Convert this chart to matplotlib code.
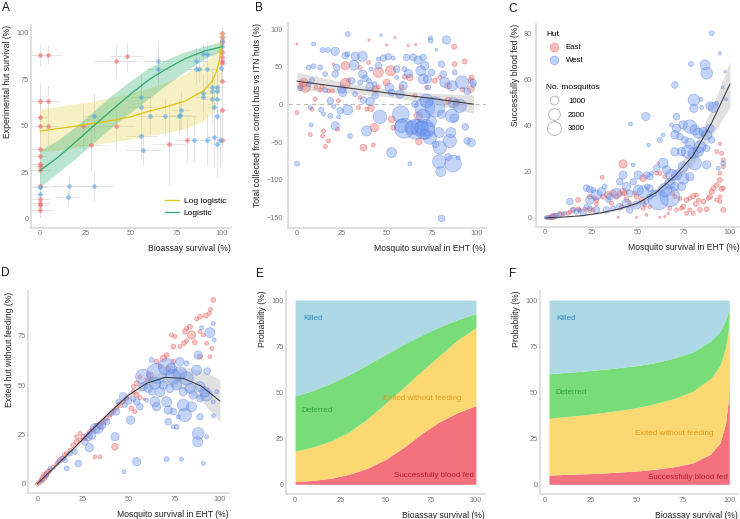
import numpy as np
import matplotlib
matplotlib.use("Agg")
import matplotlib.pyplot as plt
from matplotlib.lines import Line2D

plt.rcParams['font.family'] = ['Liberation Sans', 'DejaVu Sans']

# ---------------- data ----------------
# Panel A: bioassay survival vs experimental hut survival (x, y, xerr, yerr)
a_east = [(0, 88.3, 7, 6), (4.2, 88.3, 8, 5), (0, 63.4, 5, 10), (4.2, 63.4, 7, 8), (0, 55, 4, 12),
          (0, 50, 5, 14), (4.2, 50, 6, 10), (0, 37.8, 5, 10), (0, 33.7, 4, 9), (0, 29.7, 5, 8),
          (0, 28.3, 4, 10), (0, 26.5, 6, 9), (0, 18, 4, 8), (0, 10.8, 5, 6), (0, 8.5, 5, 6),
          (0, 7.7, 4, 5), (0, 4.9, 7, 4), (41.8, 85.2, 12, 9), (47.7, 87.4, 9, 8), (23.9, 50, 8, 12),
          (28, 39.6, 9, 14), (41.8, 50, 10, 12), (70.8, 40.2, 9, 22), (80.9, 42.3, 6, 12),
          (100, 100, 2, 3), (100, 98, 2, 4), (100, 95, 2, 5), (100, 90, 3, 6), (100, 87, 2, 5),
          (100, 85, 2, 7), (100, 84, 3, 6), (100, 74.4, 2, 8), (100, 58.6, 2, 10), (100, 42.7, 3, 12)]
a_west = [(0, 17.1, 5, 8), (0, 13.5, 4, 6), (15.2, 11.7, 7, 4), (16.1, 17.7, 10, 6), (29.9, 17.7, 10, 8),
          (29.4, 55.5, 6, 12), (55.6, 65.4, 6, 12), (55.6, 60, 8, 10), (55.6, 44.5, 9, 12),
          (56.5, 37.3, 10, 9), (60.6, 55.5, 8, 10), (68.6, 55.3, 9, 10), (76.1, 55.3, 10, 9),
          (76.9, 55.9, 6, 8), (77.6, 58.6, 5, 10), (65.1, 84.9, 8, 10), (65.1, 80.5, 7, 8),
          (85.9, 85, 6, 7), (85.9, 80.5, 5, 8), (87.3, 80.5, 6, 7), (89.5, 88.6, 5, 6), (91.7, 88.6, 4, 7),
          (91.7, 80.5, 5, 9), (89.5, 68, 5, 10), (89.5, 65.4, 4, 12), (94.3, 70.8, 4, 10),
          (94.3, 69, 3, 12), (94.3, 64.5, 4, 14), (97.2, 70.8, 3, 12), (97.2, 69, 2, 14),
          (97.2, 64.5, 3, 16), (95.6, 60, 3, 15), (97.4, 55.5, 2, 18), (84.6, 42.7, 8, 12),
          (91.7, 42.7, 5, 14), (95.6, 44.1, 4, 16), (97.2, 40.5, 3, 18), (98.7, 42.7, 2, 15),
          (99.6, 81, 1, 8), (100, 96.4, 1, 4), (100, 92.8, 1, 5)]

a_loglog_x = [0, 10, 20, 30, 40, 50, 60, 70, 80, 90, 95, 97, 98.5, 99.5, 100]
a_loglog_y = [47.3, 48.6, 50, 51.5, 53, 55, 58, 60.5, 63.5, 69, 74.5, 79.5, 85, 92, 99.5]
a_loglog_lo = [36, 37, 38.5, 40, 41.5, 43, 45, 46.5, 48.5, 53, 58, 63, 70, 82, 97]
a_loglog_hi = [59, 60.5, 62, 63.5, 65.5, 67.5, 70.5, 74, 78, 83.5, 88, 90, 93, 96.5, 100]

a_logit_x = [0, 10, 20, 30, 40, 50, 60, 70, 80, 90, 100]
a_logit_y = [26, 33.3, 41.8, 50.5, 59, 67.3, 75, 81, 86.3, 90.2, 92.6]
a_logit_lo = [17.5, 25, 33, 41.5, 50, 57.5, 65, 72.5, 79.5, 86, 90.5]
a_logit_hi = [37, 42.5, 50, 58.5, 67, 74.5, 81.5, 86, 90, 93, 95.3]

# Panel B: survival in EHT vs deterrence (x, y, number of mosquitoes)
b_west = [(0, -78.7, 235), (1.8, 21.8, 235), (28.2, 93.8, 235), (46.7, 92.4, 26), (9.2, 80.4, 120),
          (74.2, 84.9, 235), (74.2, 88.5, 120), (83, 85.8, 900), (77.5, 72.9, 26), (14.2, 72.4, 235),
          (17.2, 72.4, 235), (21.2, 70.7, 900), (26.8, 64.9, 510), (28, 67, 235), (32.3, 64, 900),
          (36.3, 64, 1400), (31.7, 52.4, 1400), (22.1, 49.3, 510), (21.2, 40.4, 510), (15.7, 40.4, 235),
          (12.9, 49.3, 235), (9.2, 50.7, 235), (6.5, 49.3, 235), (8.3, 32.4, 235), (6.5, 27.1, 235),
          (15.7, 19.1, 235), (24.9, 20.4, 900), (25.3, 16, 900), (30.4, 31.6, 510), (35.1, 29.3, 235),
          (37.8, 34.7, 510), (40, 31.6, 235), (40.6, 24, 900), (43, 27.1, 235), (36.5, 40.4, 900),
          (41.1, 47.1, 120), (45.2, 60.4, 120), (45.2, 51.6, 510), (48, 61.8, 510), (50.7, 63.6, 510),
          (53.5, 61.8, 120), (51.3, 22.7, 900), (52.6, 16, 510), (55.4, 47.1, 510), (55.4, 36, 120),
          (59.6, 47.1, 235), (61.8, 41.3, 900), (59, 24.9, 900), (57.2, 13.8, 900), (60.9, 62.7, 510),
          (64.6, 62.7, 510), (67.3, 59.1, 900), (70.1, 62.7, 510), (71, 51.6, 900), (68.8, 44.9, 1400),
          (70.1, 33.8, 1400), (72.5, 33.8, 900), (74.7, 42.7, 510), (72.9, 22.7, 235), (80.3, 53.8, 510),
          (81.2, 40.4, 510), (82.1, 29.3, 1400), (86.3, 24.9, 1400), (87.6, 42.7, 235), (91.7, 29.3, 2700),
          (94.6, 17.3, 510), (97.8, 29.3, 510), (98, 25.8, 235), (36.9, 5.8, 510), (40.6, 4, 900),
          (43.4, 11.6, 510), (32.3, 13.8, 235), (28.2, -7.1, 1400), (18.5, 4.9, 510), (20.3, -2.7, 120),
          (24, -8.4, 510), (23.1, -16.4, 120), (13.5, -7.1, 235), (14.8, -12.9, 120), (7.4, -4, 120),
          (7.9, -27.1, 120), (18.5, -15.1, 235), (21.2, -28.4, 900), (29.5, -41.8, 235), (38.7, -35.1, 1400),
          (46.1, -16.4, 2700), (52.6, -64, 1400), (57.7, -12.9, 4400), (58.1, -28.4, 2700), (59.6, -31.6, 6500),
          (63.7, -30.7, 2700), (65.9, -32.9, 6500), (67.7, -30.7, 4400), (69.2, -30.7, 2700), (71, -32.9, 6500),
          (72.5, -32.9, 2700), (71, -4, 6500), (72, 4.9, 2700), (76.6, -3.1, 6500), (70.1, -15.1, 2700),
          (65.5, 0.4, 510), (71, -39.6, 1400), (73.8, -44, 2700), (62.7, -78.7, 120), (76.9, -52.9, 510),
          (79, -37.3, 1400), (80.3, -12.9, 900), (74.7, -22.7, 1400), (79.3, -57.3, 2700), (79, -76, 2700),
          (79.9, -89.3, 1400), (80.3, -151.6, 510), (85.4, -37.3, 1400), (86.2, -15.1, 2700), (87.3, -18.2, 900),
          (86.7, 2.7, 1400), (90.4, -1.8, 2700), (84.9, -48.4, 2700), (86.7, -78.7, 4400), (89.5, -70.7, 120),
          (83.9, -69.8, 510), (93.5, -29.8, 510), (96.8, -50.7, 900), (94.5, -48.4, 510)]
b_east = [(0, 80.4, 10), (0, -10.7, 120), (40, 85.8, 10), (49.8, 79.1, 10), (61.8, 78.2, 10), (65.9, 79.6, 10),
          (87.3, 76.9, 235), (3.7, 29.3, 900), (4.6, 22.7, 1400), (1.8, 24.9, 235), (10.5, 22.7, 120),
          (12.9, 19.1, 120), (17.5, 18.2, 120), (19.7, 18.2, 120), (26.8, 51.6, 900), (26.8, 28, 1400),
          (28.6, 32.4, 120), (43.4, 20.4, 510), (45.2, 23.6, 120), (45.2, 42.7, 1400), (52, 44.9, 1400),
          (49.8, 29.3, 510), (60, 36.9, 235), (62.7, 36, 510), (76.6, 31.6, 235), (83.9, 24.9, 510),
          (87.6, 53.8, 235), (93.2, 57.3, 235), (97, 36, 235), (96.5, 32.4, 235), (35.1, 9.3, 120),
          (34.1, -4, 120), (38.7, -6.2, 120), (41.1, -4.9, 510), (22.5, -32.9, 120), (14.8, -35.1, 120),
          (14.2, -41.8, 120), (15.7, -56, 120), (36.9, -57.3, 510), (42.4, -53.8, 120), (43, -30.7, 900),
          (52.6, -19.6, 510), (53.5, -30.7, 235), (67.3, -15.1, 900), (67.7, -49.3, 510), (88.6, 2.7, 510),
          (84, 5, 510), (92, 20, 235), (13.8, 23.6, 120), (10.1, 7, 120), (8.3, -6.2, 120), (7.4, -40, 120),
          (17.5, -48.4, 120), (58.1, 22.7, 235), (65.5, 11.6, 120), (23.1, 4.9, 120), (35.1, 49.3, 120),
          (39.7, 56, 120), (54.4, 89.3, 10), (72, 22.7, 120), (79.3, 36, 120), (96.5, 20.4, 510), (20.3, 53.5, 26)]
b_fit_x = [0, 25, 50, 75, 98]
b_fit_y = [31, 23, 15.5, 8, 0.5]
b_fit_lo = [19, 16, 10.5, 1, -11.5]
b_fit_hi = [43, 30, 20.5, 15, 12.5]

# Panel C: survival in EHT vs successfully blood fed
c_west = [(90.1, 80, 235), (94.6, 71.3, 64), (78.9, 66.7, 235), (86.5, 66.3, 1400), (87.4, 62.7, 2000),
          (97.3, 63.4, 26), (96, 56.6, 26), (97.8, 51.4, 64), (70.2, 57.6, 510), (80.5, 51.1, 2000),
          (80.5, 47.5, 900), (84.3, 51.4, 120), (84.7, 47.9, 120), (89.2, 48.5, 900), (91, 47.9, 1400),
          (92.8, 49.7, 120), (54.5, 43.9, 900), (46.2, 40.7, 120), (56, 31.6, 64), (71.1, 43.9, 510),
          (68.4, 40.3, 120), (71.1, 38.8, 900), (74.7, 40.3, 900), (78.3, 39.6, 2700), (81, 38.1, 1400),
          (82.9, 36.7, 1400), (85.6, 37.4, 900), (87.4, 36, 1400), (89.2, 38.8, 900), (90.1, 33.8, 510),
          (70.2, 36, 900), (72.9, 35.2, 510), (75.6, 33.8, 510), (78.3, 32.3, 1400), (83.8, 30.9, 2000),
          (87.4, 30.2, 510), (70.2, 28.7, 900), (73.8, 28.7, 900), (77.4, 28.7, 2700), (80.1, 28, 1400),
          (82.9, 28.7, 1400), (87.4, 23, 900), (96.4, 23.7, 235), (93.7, 21.5, 120), (81, 23.7, 2700),
          (74.7, 22.2, 1400), (63.9, 23.7, 1400), (65.7, 20.8, 900), (60.3, 21.5, 510), (68.4, 18.6, 2000),
          (71.1, 18.6, 1400), (74.7, 17.2, 2000), (78.3, 17.9, 900), (67.5, 15, 1400), (70.2, 13.6, 900),
          (73.8, 13.6, 900), (58.5, 10.7, 510), (56.7, 12.9, 510), (55.2, 13.6, 235), (61.2, 7.8, 6500),
          (67.5, 9.2, 6500), (64.8, 12.1, 2700), (50.4, 18.6, 900), (54.9, 18.6, 510), (56.7, 17.9, 510),
          (50.4, 12.1, 1400), (53.1, 11.4, 2000), (47.7, 15.7, 510), (42.2, 18.6, 900), (40.4, 15.7, 510),
          (44, 13.6, 900), (45.8, 10.7, 510), (38.6, 10.7, 1400), (35, 9.2, 510), (34.1, 7.8, 235),
          (30.5, 11.4, 900), (32.3, 13.6, 235), (27.8, 10, 1400), (24.2, 7.8, 900), (22.4, 12.9, 510),
          (24.2, 12.4, 510), (26, 12.1, 235), (22.4, 4.9, 235), (24.2, 4.2, 235), (27.8, 3.5, 510),
          (13.4, 7.1, 510), (15.2, 3.5, 235), (17, 2.7, 235), (20.6, 2.3, 510), (7.9, 1.3, 235),
          (6.1, 0.9, 235), (4.3, 0.6, 235), (2.5, 0.3, 120), (0.7, 0.1, 120), (10.6, 2, 120),
          (33.2, 3.5, 510), (36.8, 4.2, 235), (40.4, 4.9, 510), (44, 6.4, 900), (45.8, 3.5, 510),
          (49.5, 5.6, 900), (53.1, 6.4, 235), (56.7, 9.2, 235), (54.9, 7.1, 235), (18.4, 3.5, 120),
          (47.7, 23, 120), (57.6, 19.4, 120), (63.9, 36, 120), (62.1, 33.8, 235)]
c_east = [(1.6, 0.3, 120), (3.4, 0.3, 235), (4.3, 0.6, 510), (5.2, 0.9, 235), (7.9, 2, 120), (9.7, 1.7, 120),
          (12.5, 2, 120), (13.4, 2.6, 120), (15.2, 3.5, 235), (17.9, 4, 120), (18.8, 3.2, 120), (21.5, 3.8, 120),
          (24.2, 3.5, 235), (26, 3.5, 120), (27.8, 7.8, 235), (31.4, 9.2, 235), (34.1, 10, 510),
          (36.8, 10.7, 510), (38.6, 9.2, 235), (40.4, 10.4, 235), (42.2, 11.4, 510), (43.1, 10.7, 235),
          (35.9, 6.4, 120), (41.3, 4.9, 120), (44, 8.1, 235), (45.8, 6.4, 120), (49.5, 9.2, 235),
          (48.6, 10.7, 120), (52.2, 7.8, 235), (42.2, 23.4, 900), (53.1, 17.2, 510), (61.2, 23.7, 26),
          (60.3, 19.4, 120), (62.1, 19.4, 120), (64.8, 17.9, 120), (74.7, 4.9, 235), (76.5, 7.8, 235),
          (78.3, 8.5, 120), (80.1, 9.5, 235), (81.9, 10, 120), (81.6, 6.1, 235), (82.9, 7.8, 120),
          (83.8, 3.5, 235), (85.6, 7.1, 235), (87.4, 3.8, 235), (88.3, 8.5, 120), (89.2, 9.2, 235),
          (90.1, 11.4, 235), (91, 12.9, 235), (92.8, 14.3, 235), (94.6, 19.4, 120), (94.6, 16.5, 235),
          (95.5, 28, 120), (92.8, 28.7, 120), (96.4, 25.1, 120), (96.4, 22.2, 120), (95.5, 12.6, 235),
          (96.4, 12.9, 120), (94.6, 9.2, 120), (94.6, 7.1, 120), (96.4, 3.5, 235), (92.8, 7.8, 120),
          (80.1, 2, 120), (78.3, 3.5, 120), (76.5, 2, 120), (73.8, 4.2, 120), (72.9, 8.5, 120),
          (70.2, 9.2, 120), (69, 10.7, 120), (71.1, 3.5, 120), (67.5, 4.2, 120), (66.6, 2, 26),
          (64.8, 0.6, 10), (62.1, 0.3, 10), (49.5, 0.3, 10), (39.5, 0.3, 10), (54.9, 1.3, 26),
          (53.1, 4.2, 120), (54, 5.6, 120), (56.7, 4.9, 120), (17.9, 7.8, 235), (24.2, 9.2, 235),
          (26.9, 8.5, 120), (30.9, 17.6, 120), (27.8, 6.1, 120), (94.6, 32.1, 64)]
c_fit_x = [0, 10, 20, 30, 40, 50, 60, 70, 80, 90, 100]
c_fit_y = [0, 0.4, 1.0, 2.2, 3.9, 6.4, 11, 18, 27, 41, 58]
c_fit_lo = [0, 0.3, 0.8, 1.8, 3.3, 5.5, 9.5, 15.5, 23, 35, 48]
c_fit_hi = [0, 0.5, 1.2, 2.6, 4.5, 7.3, 12.5, 20.5, 31, 47, 68]

# Panel D: survival in EHT vs exited without feeding
d_east = [(0, 0, 120), (1.1, 0.7, 235), (2.4, 1.9, 235), (3.3, 3, 510), (4.2, 4.4, 510), (5.1, 5.2, 235),
          (6, 6.1, 235), (6.9, 6.9, 120), (8.8, 8.6, 120), (10.6, 10.3, 120), (12.4, 12, 235), (13.3, 12.9, 120),
          (15.1, 14.6, 235), (16.1, 15.4, 120), (17.9, 17.1, 120), (19.7, 19.6, 235), (21.5, 21.3, 235),
          (23.4, 22.2, 120), (25.2, 23.9, 235), (26.1, 23, 120), (27.9, 24.7, 120), (28.8, 26.4, 235),
          (30.7, 27.8, 235), (32.5, 29.8, 120), (34.3, 29.5, 510), (36.1, 31.5, 235), (38, 33.2, 235),
          (39.8, 34.9, 120), (41.6, 36.6, 235), (43.4, 38.3, 120), (45.3, 40, 235), (47.1, 41.6, 120),
          (48.9, 43.3, 235), (52.6, 46.7, 120), (54.4, 45, 235), (56.2, 43.7, 120), (51.6, 38.3, 235),
          (53.5, 36.6, 120), (42.5, 18.8, 510), (31.6, 13.7, 120), (34.3, 13.7, 120), (21.5, 23.9, 120),
          (23.4, 25.6, 120), (96.4, 93.3, 235), (94.9, 88.5, 120), (94.2, 86.5, 120), (92.3, 85.3, 235),
          (89.1, 84.8, 235), (87.2, 83.6, 120), (83.6, 79.7, 235), (81.8, 78.9, 120), (80.8, 77.2, 235),
          (84.5, 75.5, 900), (86.3, 71.8, 235), (81.8, 72.5, 120), (80.3, 71.3, 235), (78.1, 69.6, 120),
          (74.5, 69.6, 235), (73.5, 75.5, 120), (75.4, 74.7, 120), (89.1, 77.2, 120), (90.9, 75.5, 120),
          (92.7, 71.3, 120), (94.5, 64.5, 120), (95.6, 68.7, 120), (89.1, 64.5, 235), (74.5, 62, 235),
          (70.8, 65.3, 235), (69, 63.7, 510), (65.3, 62, 235), (61.7, 55.2, 510), (59.9, 52.6, 120),
          (56.2, 54.3, 120), (54.4, 51, 235), (52.6, 49.3, 120), (71.7, 58.6, 235), (67.2, 59.4, 120),
          (44.2, 40.8, 26), (58.5, 43, 26)]
d_west = [(65.3, 56, 6500), (58, 54.3, 3500), (70.8, 59.4, 4400), (74.5, 54.3, 3500), (78.1, 56, 2700),
          (81.8, 53.5, 2700), (87.2, 57.7, 1400), (88.1, 65.3, 900), (89.1, 49.3, 1400), (92.7, 45, 2000),
          (70.8, 41.6, 1400), (71.7, 37.4, 900), (74.5, 36.6, 510), (79.9, 40, 2000), (80.8, 34.9, 2700),
          (84.5, 39.1, 1400), (88.1, 25.6, 2000), (87.8, 21.3, 1400), (64.4, 41.6, 1400), (60.8, 48.4, 900),
          (67.2, 46.7, 1400), (64.4, 51, 2000), (51.1, 32.3, 900), (42.5, 23.9, 900), (31.6, 28.1, 1400),
          (27.9, 23.9, 900), (28.5, 18.3, 900), (22.4, 10.3, 510), (15.1, 12, 235), (16.1, 7.8, 235),
          (54.4, 11.2, 900), (70.8, 12.5, 235), (79, 12.5, 120), (90.9, 10.3, 120), (47.4, 6.1, 120),
          (93.1, 57.2, 510), (94.5, 76.7, 1400), (96.9, 73, 120), (96.4, 81.4, 120), (90, 79.2, 120),
          (98.2, 46.7, 120), (96.4, 34.5, 120), (92.7, 23.9, 120), (77.2, 34, 120), (74.5, 28.9, 120),
          (59.9, 42.5, 120), (6.9, 7.8, 120), (11.5, 11.2, 120), (14.2, 12.9, 235), (17.9, 15.4, 235),
          (20.6, 16.3, 235), (26.1, 21.3, 510), (29.7, 24.7, 900), (33.4, 28.1, 1400), (35.2, 29.8, 900),
          (38, 31.5, 510), (40.7, 35.7, 235), (43.4, 36.6, 510), (44.3, 41.6, 235), (47.1, 44.2, 900),
          (48, 40, 235), (49.8, 42, 510), (52.6, 43, 235), (54.4, 41.6, 510), (56.2, 39.1, 510),
          (58, 49.3, 900), (62.6, 46.7, 510), (69, 50.1, 900), (72.6, 48.4, 900), (76.3, 50.1, 1400),
          (79.9, 46.7, 900), (83.6, 48.4, 1400), (85.4, 45, 900), (89.1, 43.3, 510), (91.8, 46.7, 1400),
          (96.4, 41.6, 120), (62.6, 62.8, 235), (73.5, 58.6, 1400), (78.1, 62, 900), (81.8, 61.1, 235),
          (76.3, 28.9, 235), (71.7, 31.5, 510), (89.1, 34, 510), (65.3, 39.1, 900), (2.2, 1.5, 120),
          (4.8, 4.2, 235)]
d_fit_x = [0, 10, 20, 30, 40, 50, 60, 70, 80, 90, 100]
d_fit_y = [0, 9, 18, 27.5, 36.5, 45, 51, 54, 53.5, 49.5, 42]
d_fit_lo = [0, 8.2, 16.8, 26, 35, 43.2, 48.6, 50.2, 48, 42, 31.5]
d_fit_hi = [0, 9.8, 19.2, 29, 38, 46.8, 53.6, 57.8, 59.2, 57.5, 53]

# Panel E / F: stacked outcome probabilities (upper boundary of each band)
e_x = [0, 10, 20, 30, 40, 50, 60, 70, 80, 90, 100]
e_fed = [1.4, 2.1, 3.3, 5.5, 8.7, 13.5, 20, 27.5, 34, 39, 42.7]
e_exited = [18, 20.3, 23.5, 28.5, 35.5, 44, 52.5, 61.5, 70, 78.5, 85]
e_deterred = [48, 51, 55, 59.5, 65, 70.5, 76, 81, 85.5, 89.5, 92.6]

f_x = [2.5, 10, 20, 30, 40, 50, 60, 70, 80, 90, 95, 98, 99.5, 100]
f_fed = [5, 5.3, 5.6, 6, 6.6, 7.2, 8.2, 9.5, 11.5, 16.5, 22.5, 33, 46, 56]
f_exited = [35.8, 36.6, 37.5, 38.7, 40, 41.6, 43.8, 46.5, 50.3, 57.5, 64.5, 74, 84, 94]
f_deterred = [60, 60.6, 61.3, 62.2, 63.3, 64.4, 66, 68.5, 71.7, 77.8, 83, 89, 94, 99]

size_breaks = [1000, 2000, 3000]

# ---------------- styling ----------------
W, H = 740, 519
EAST_FACE, EAST_EDGE = '#F07C7C', '#E04848'
WEST_FACE, WEST_EDGE = '#6E98EE', '#3F68DA'
AXIS_GREY = '#DCDCDC'
TICK_GREY = '#7A7A7A'
TITLE_COL = '#222222'


def box(l, t, r, b):
    return [l / W, 1 - b / H, (r - l) / W, (b - t) / H]


def size_pt(n):
    d_px = 1.5 + 12.5 * np.sqrt(np.asarray(n, float) / 3000)
    return (d_px * 0.72) ** 2


def style(ax, xlim, ylim, yticks, xlabel, ylabel, xpad=1.5, ypad=1.5):
    ax.set_xlim(*xlim)
    ax.set_ylim(*ylim)
    ax.set_xticks([0, 25, 50, 75, 100])
    ax.set_yticks(yticks)
    for s in ['top', 'right']:
        ax.spines[s].set_visible(False)
    for s in ['left', 'bottom']:
        ax.spines[s].set_color(AXIS_GREY)
        ax.spines[s].set_linewidth(1.3)
    ax.tick_params(length=0, labelsize=5.3, labelcolor=TICK_GREY)
    ax.tick_params(axis='x', pad=xpad)
    ax.tick_params(axis='y', pad=ypad)
    ax.set_xlabel(xlabel, loc='right', fontsize=6.2, color=TITLE_COL, labelpad=5)
    ax.set_ylabel(ylabel, loc='top', fontsize=6.2, color=TITLE_COL, labelpad=3)


def bubbles(ax, pts, face, edge, alpha=0.45):
    arr = np.array(pts, float)
    order = np.argsort(-arr[:, 2])
    arr = arr[order]
    ax.scatter(arr[:, 0], arr[:, 1], s=size_pt(arr[:, 2]), facecolor=face, edgecolor=edge,
               linewidth=0.5, alpha=alpha, zorder=3)


def fit(ax, x, y, lo, hi):
    ax.fill_between(x, lo, hi, color='#B5B5B5', alpha=0.4, lw=0, zorder=2)
    ax.plot(x, y, color='#3A3A3A', lw=0.75, zorder=4)


fig = plt.figure(figsize=(W / 100, H / 100), dpi=100)

# ---- A ----
axA = fig.add_axes(box(30.9, 24.6, 231.1, 228.3))
for pts in (a_east, a_west):
    arr = np.array(pts, float)
    axA.errorbar(arr[:, 0], arr[:, 1], xerr=arr[:, 2], yerr=arr[:, 3], fmt='none',
                 ecolor='#D8D8D8', elinewidth=0.6, alpha=0.8, zorder=1)
for pts, col in [(a_east, '#F06A6A'), (a_west, '#5AA8E6')]:
    arr = np.array(pts, float)
    axA.scatter(arr[:, 0], arr[:, 1], s=11, color=col, alpha=0.65, lw=0, zorder=3)
axA.fill_between(a_loglog_x, a_loglog_lo, a_loglog_hi, color='#E6D45A', alpha=0.35, lw=0, zorder=2)
axA.fill_between(a_logit_x, a_logit_lo, a_logit_hi, color='#3DB579', alpha=0.35, lw=0, zorder=2)
axA.plot(a_loglog_x, a_loglog_y, color='#E2C212', lw=0.9, zorder=4, label='Log logistic')
axA.plot(a_logit_x, a_logit_y, color='#2DAA6B', lw=0.9, zorder=4, label='Logistic')
style(axA, (-5, 105), (-5, 104.5), [0, 25, 50, 75, 100],
      'Bioassay survival (%)', 'Experimental hut survival (%)')
axA.legend(loc='lower right', bbox_to_anchor=(1.0, 0.03), frameon=False, fontsize=6,
           handlelength=1.6, handletextpad=0.6, labelspacing=0.5, borderaxespad=0.2)

# ---- B ----
axB = fig.add_axes(box(288, 23.3, 486, 227.8))
axB.axhline(0, color='#BBBBBB', lw=0.8, ls=(0, (4, 3)), zorder=1)
bubbles(axB, b_east, EAST_FACE, EAST_EDGE)
bubbles(axB, b_west, WEST_FACE, WEST_EDGE, alpha=0.4)
fit(axB, b_fit_x, b_fit_y, b_fit_lo, b_fit_hi)
style(axB, (-5, 105), (-164, 108), [-150, -100, -50, 0, 50, 100],
      'Mosquito survival in EHT (%)', 'Total collected from control huts vs ITN huts (%)', ypad=3.5)

# ---- C ----
axC = fig.add_axes(box(535.8, 24, 739.2, 227.2))
bubbles(axC, c_east, EAST_FACE, EAST_EDGE)
bubbles(axC, c_west, WEST_FACE, WEST_EDGE, alpha=0.4)
fit(axC, c_fit_x, c_fit_y, c_fit_lo, c_fit_hi)
style(axC, (-5, 105), (-4, 84), [0, 20, 40, 60, 80],
      'Mosquito survival in EHT (%)', 'Successfully blood fed (%)', ypad=2.5)
hut_handles = [Line2D([], [], ls='', marker='o', markersize=6.3, markerfacecolor=EAST_FACE,
                      markeredgecolor=EAST_EDGE, markeredgewidth=0.5, alpha=0.5, label='East'),
               Line2D([], [], ls='', marker='o', markersize=6.3, markerfacecolor=WEST_FACE,
                      markeredgecolor=WEST_EDGE, markeredgewidth=0.5, alpha=0.45, label='West')]
leg1 = axC.legend(handles=hut_handles, title='Hut', loc='upper left', bbox_to_anchor=(0.025, 0.99),
                  frameon=False, fontsize=5.6, title_fontsize=6, alignment='left',
                  handletextpad=0.5, labelspacing=0.7, borderaxespad=0.3)
axC.add_artist(leg1)
size_handles = [Line2D([], [], ls='', marker='o', markersize=np.sqrt(size_pt(n)),
                       markerfacecolor='none', markeredgecolor='#BBBBBB', markeredgewidth=0.7,
                       label=str(n)) for n in size_breaks]
axC.legend(handles=size_handles, title='No. mosquitos', loc='upper left', bbox_to_anchor=(0.025, 0.73),
           frameon=False, fontsize=5.6, title_fontsize=6, alignment='left',
           handletextpad=0.8, labelspacing=0.8, borderaxespad=0.3)

# ---- D ----
axD = fig.add_axes(box(28.2, 291.3, 229, 493))
bubbles(axD, d_east, EAST_FACE, EAST_EDGE)
bubbles(axD, d_west, WEST_FACE, WEST_EDGE, alpha=0.4)
fit(axD, d_fit_x, d_fit_y, d_fit_lo, d_fit_hi)
style(axD, (-5, 105), (-4.65, 97.65), [0, 25, 50, 75],
      'Mosquito survival in EHT (%)', 'Exited hut without feeding (%)', xpad=2.5)

# ---- E & F ----
band_cols = ['#F4717E', '#FCD872', '#78DC78', '#ADD8E6']
label_cols = ['#B01E35', '#E09A1A', '#34A040', '#3389C4']


def stacked(ax, x, fed, exited, deterred, labels_xy):
    ones = [100] * len(x)
    zeros = [0] * len(x)
    layers = [zeros, fed, exited, deterred, ones]
    for i in range(4):
        ax.fill_between(x, layers[i], layers[i + 1], color=band_cols[i], lw=0, zorder=2)
    names = ['Successfully blood fed', 'Exited without feeding', 'Deterred', 'Killed']
    for i, (tx, ty, ha) in enumerate(labels_xy):
        ax.text(tx, ty, names[i], color=label_cols[i], fontsize=5.8, ha=ha, va='center', zorder=5)


axE = fig.add_axes(box(286, 290.8, 485, 493.5))
stacked(axE, e_x, e_fed, e_exited, e_deterred,
        [(99, 4.7, 'right'), (48.5, 46.7, 'left'), (3.3, 39.8, 'left'), (4.6, 90, 'left')])
style(axE, (-5, 105), (-5, 105), [0, 25, 50, 75, 100],
      'Bioassay survival (%)', 'Probability (%)', xpad=2.5)

axF = fig.add_axes(box(539.9, 290.8, 738.3, 493.5))
stacked(axF, f_x, f_fed, f_exited, f_deterred,
        [(99, 3.8, 'right'), (49, 27.7, 'left'), (5.8, 50, 'left'), (6.7, 90, 'left')])
style(axF, (-2.4, 104.9), (-5, 105), [0, 25, 50, 75, 100],
      'Bioassay survival (%)', 'Probability (%)', xpad=2.5)

# panel letters
for letter, px, py in [('A', 2, 2), ('B', 255, 2), ('C', 508, 3), ('D', 1, 267), ('E', 256, 268), ('F', 509, 268)]:
    fig.text(px / W, 1 - py / H, letter, fontsize=8.5, ha='left', va='top', color='#111111')

fig.savefig('out.png', dpi=100, facecolor='white')
